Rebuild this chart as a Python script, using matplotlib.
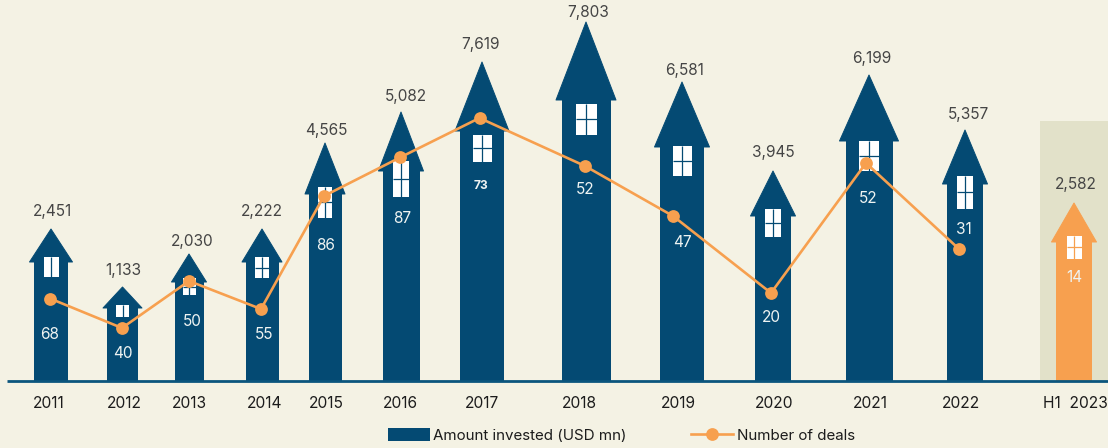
import matplotlib.pyplot as plt
from matplotlib.lines import Line2D
from matplotlib.patches import Patch, Polygon, Rectangle

plt.rcParams['font.family'] = ['Inter', 'DejaVu Sans']

years = ['2011', '2012', '2013', '2014', '2015', '2016', '2017', '2018', '2019', '2020', '2021', '2022', 'H1  2023']
invested = ['2,451', '1,133', '2,030', '2,222', '4,565', '5,082', '7,619', '7,803', '6,581', '3,945', '6,199', '5,357', '2,582']
deals = ['68', '40', '50', '55', '86', '87', '73', '52', '47', '20', '52', '31', '14']

# drawn heights, the artwork is not to scale with the labels
house_top = [152, 94, 127, 152, 238, 269, 319, 359, 299, 210, 306, 251, 178]
deal_level = [82.5, 53, 100, 72, 185, 223.5, 263, 215, 165, 88, 218, 132]

# layout of the houses, all in pixels
house_x = [51, 122.5, 189, 262, 325, 401, 482, 586, 682, 773, 869, 965, 1074]
body_w = [34, 31, 29, 33, 33, 37, 44, 49, 44, 36, 47, 36, 36]
roof_w = [43, 39, 35, 40, 40, 45, 54, 60, 55, 45, 59, 45, 45]
eave = [119, 73, 99, 119, 187, 210, 250, 281, 234, 165, 240, 197, 139]
win_w = [15, 13, 13, 14, 14, 16, 19, 21, 19, 16, 20, 16, 15]
win_top = [124, 76, 103, 124, 194, 220, 246, 277, 235, 172, 240, 205, 145]
win_bottom = [104, 64, 86, 103, 163, 184, 219, 246, 205, 144, 210, 172, 122]
panes = [2, 2, 4, 4, 4, 4, 4, 4, 4, 4, 4, 4, 4]

line_x = [50, 122, 189, 261, 324, 400, 479.5, 585, 673, 771, 866, 959]
tick_x = [49, 124, 189, 265, 326, 400, 482, 579, 678, 774, 870, 961, 1075]
invested_x = [52, 123, 192, 262, 326, 406, 480, 588, 685, 773, 872, 968, 1076]
invested_y = [170, 111, 140, 170, 251, 285, 336, 369, 311, 229, 322, 267, 196]
deals_x = [50, 123, 192, 264, 326, 402, 481, 585, 682, 771, 868, 964, 1074]
deals_y = [47, 28, 60, 47, 136, 163, 195, 192, 139, 64, 183, 152, 103]

navy = '#044a73'
orange = '#f7a04f'
cream = '#f4f2e4'

fig = plt.figure(figsize=(11.08, 4.48), dpi=100, facecolor=cream)
ax = fig.add_axes([0, 67 / 448, 1, 381 / 448], facecolor=cream)
ax.set_xlim(0, 1108)
ax.set_ylim(0, 381)
ax.patch.set_visible(False)
for s in ax.spines.values():
    s.set_visible(False)
ax.set_yticks([])
ax.set_xticks(tick_x, years, fontsize=11.2, color='#1c1c1c')
ax.tick_params(axis='x', length=0, pad=10.5)

ax.add_patch(Rectangle((1040, 0), 68, 260, color='#e2e1c9', lw=0, zorder=1))

for i in range(len(years)):
    c = orange if i == len(years) - 1 else navy
    x = house_x[i]
    ax.add_patch(Rectangle((x - body_w[i] / 2, 0), body_w[i], eave[i], color=c, lw=0, zorder=2))
    roof = [(x - roof_w[i] / 2, eave[i]), (x, house_top[i]), (x + roof_w[i] / 2, eave[i])]
    ax.add_patch(Polygon(roof, closed=True, fc=c, ec=c, lw=0.7, joinstyle='round', zorder=2))

    # window with its bars
    left = x - win_w[i] / 2
    ax.add_patch(Rectangle((left, win_bottom[i]), win_w[i], win_top[i] - win_bottom[i], color='white', lw=0, zorder=3))
    ax.plot([x, x], [win_bottom[i], win_top[i]], color=c, lw=0.9, solid_capstyle='butt', zorder=4)
    if panes[i] == 4:
        mid = (win_bottom[i] + win_top[i]) / 2
        ax.plot([left, left + win_w[i]], [mid, mid], color=c, lw=0.9, solid_capstyle='butt', zorder=4)

ax.plot([7, 1108], [0, 0], color='#0b557d', lw=2, solid_capstyle='butt', zorder=5, clip_on=False)

ax.plot(line_x, deal_level, color=orange, lw=1.9, marker='o', ms=9.2, mew=0, zorder=6)

for i in range(len(years)):
    ax.text(invested_x[i], invested_y[i], invested[i], ha='center', va='center', fontsize=11.1, color='#454545', zorder=7, clip_on=False)
    bold = deals[i] == '73'
    ax.text(deals_x[i], deals_y[i], deals[i], ha='center', va='center', fontsize=8.6 if bold else 11.1,
            fontweight='bold' if bold else 'normal', color='#eef3f2', zorder=7)

handles = [Patch(fc=navy, ec=navy, lw=0),
           Line2D([], [], color=orange, lw=1.9, marker='o', ms=9.2, mew=0)]
ax.legend(handles, ['Amount invested (USD mn)', 'Number of deals'], ncol=2, frameon=False, fontsize=10.9,
          loc='center left', bbox_to_anchor=(388 / 1108, -54.5 / 381), borderaxespad=0, borderpad=0,
          handlelength=2.75, handleheight=0.9, handletextpad=0.25, columnspacing=4.25, labelcolor='#1c1c1c')

fig.savefig('out.png', dpi=100, facecolor=cream)
